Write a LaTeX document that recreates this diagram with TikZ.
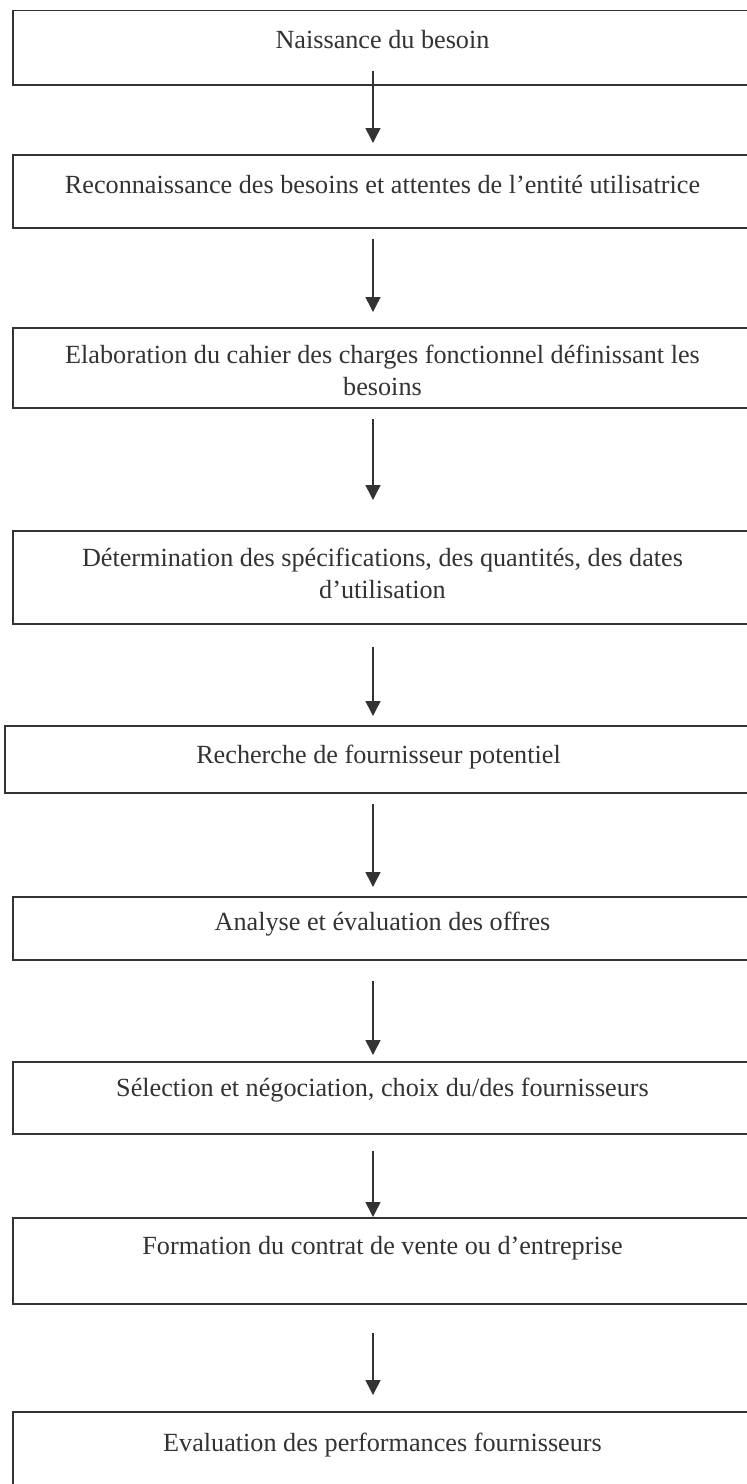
\documentclass[tikz,border=0pt]{standalone}
\usepackage{fontspec}
\setmainfont{Liberation Serif}
\usetikzlibrary{arrows.meta}
\definecolor{ink}{HTML}{333333}
\begin{document}
\begin{tikzpicture}[x=1pt,y=-1pt,
  box/.style={draw=ink, line width=1.5pt, rectangle, anchor=north west, inner sep=0pt, outer sep=0pt, minimum width=739pt},
  txt/.style={anchor=base, inner sep=0pt, text=ink, font=\fontsize{26.2}{30}\selectfont},
  arr/.style={draw=ink, line width=1.5pt, -{Triangle[width=15pt,length=15pt]}}]
\useasboundingbox (0,0) rectangle (747,1484);
\clip (0,0) rectangle (747,1484);
\fill[white] (0,0) rectangle (747,1484);

\node[box, minimum height=74.3pt] (b1) at (13,10.7) {};
\node[box, minimum height=73pt] (b2) at (13,155) {};
\node[box, minimum height=80pt] (b3) at (13,328) {};
\node[box, minimum height=93pt] (b4) at (13,531) {};
\node[box, minimum height=67pt, minimum width=747pt] (b5) at (5,726) {};
\node[box, minimum height=63pt] (b6) at (13,897) {};
\node[box, minimum height=72pt] (b7) at (13,1062) {};
\node[box, minimum height=86pt] (b8) at (13,1218) {};
\node[box, minimum height=100pt] (b9) at (13,1412) {};

\node[txt] (t1) at ([yshift=-38pt]b1.north) {Naissance du besoin};
\node[txt] (t2) at ([yshift=-38.5pt]b2.north) {Reconnaissance des besoins et attentes de l’entité utilisatrice};
\node[txt] (t3a) at ([yshift=-35.5pt]b3.north) {Elaboration du cahier des charges fonctionnel définissant les};
\node[txt] (t3b) at ([yshift=-67.5pt]b3.north) {besoins};
\node[txt] (t4a) at ([yshift=-35.5pt]b4.north) {Détermination des spécifications, des quantités, des dates};
\node[txt] (t4b) at ([yshift=-67.5pt]b4.north) {d’utilisation};
\node[txt] (t5) at ([yshift=-37.5pt]b5.north) {Recherche de fournisseur potentiel};
\node[txt] (t6) at ([yshift=-33pt]b6.north) {Analyse et évaluation des offres};
\node[txt] (t7) at ([yshift=-34pt]b7.north) {Sélection et négociation, choix du/des fournisseurs};
\node[txt] (t8) at ([yshift=-36pt]b8.north) {Formation du contrat de vente ou d’entreprise};
\node[txt] (t9) at ([yshift=-39pt]b9.north) {Evaluation des performances fournisseurs};

\draw[arr] ([xshift=-9.5pt,yshift=14pt]b1.south) -- ([xshift=-9.5pt,yshift=12pt]b2.north);
\draw[arr] ([xshift=-9.5pt,yshift=-11pt]b2.south) -- ([xshift=-9.5pt,yshift=16pt]b3.north);
\draw[arr] ([xshift=-9.5pt,yshift=-11pt]b3.south) -- ([xshift=-9.5pt,yshift=31pt]b4.north);
\draw[arr] ([xshift=-9.5pt,yshift=-23pt]b4.south) -- ([xshift=-5.5pt,yshift=10pt]b5.north);
\draw[arr] ([xshift=-5.5pt,yshift=-11pt]b5.south) -- ([xshift=-9.5pt,yshift=10pt]b6.north);
\draw[arr] ([xshift=-9.5pt,yshift=-21pt]b6.south) -- ([xshift=-9.5pt,yshift=7pt]b7.north);
\draw[arr] ([xshift=-9.5pt,yshift=-17pt]b7.south) -- ([xshift=-9.5pt,yshift=1pt]b8.north);
\draw[arr] ([xshift=-9.5pt,yshift=-29pt]b8.south) -- ([xshift=-9.5pt,yshift=17pt]b9.north);
\end{tikzpicture}
\end{document}
